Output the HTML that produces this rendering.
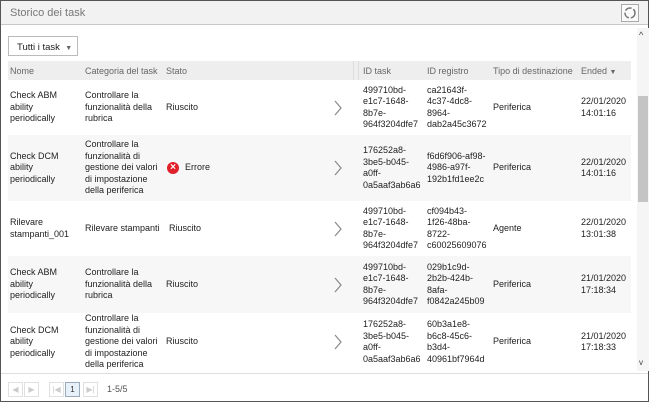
<!DOCTYPE html>
<html><head><style>
*{margin:0;padding:0;box-sizing:border-box}
body{width:649px;height:402px;overflow:hidden;background:#fff;font-family:"Liberation Sans","DejaVu Sans",sans-serif;font-size:9px;color:#222}
#w{position:absolute;left:0;top:0;width:649px;height:402px;border:1px solid #555}
.hd{position:absolute;left:0;top:0;width:647px;height:24px;background:#f2f2f2;border-bottom:1px solid #c8c8c8}
.hd span{position:absolute;left:9px;top:6px;font-size:11px;color:#777}
.rf{position:absolute;left:620px;top:3px;width:18px;height:18px;border:1px solid #aaa;background:#fafafa}
.dd{position:absolute;left:7px;top:35px;width:70px;height:20px;border:1px solid #bbb;font-size:9.5px;padding:5px 0 0 8px}
.th{position:absolute;left:7px;top:60px;width:623px;height:19px;background:#eee;color:#666}
.th div{position:absolute;top:5px}
.r{position:absolute;left:7px;width:623px}
.c{position:absolute;top:0;height:100%;display:flex;align-items:center;line-height:11.5px}
.sb{position:absolute;left:636px;top:27px;width:12px;height:343px;background:#f5f5f5}
.sb i{position:absolute;left:1px;top:68px;width:10px;height:106px;background:#c4c4c4}
.ft{position:absolute;left:0;top:372px;width:647px;height:29px;border-top:1px solid #ddd}
.pb{position:absolute;top:8px;width:15px;height:15px;border:1px solid #e0e0e0;color:#ccc;font-size:8px;text-align:center;line-height:13px}
</style></head><body><div id="w">
<div class="hd"><span>Storico dei task</span><div class="rf"><svg width="16" height="16"><circle cx="8" cy="8" r="5" fill="none" stroke="#777" stroke-width="1.5" stroke-dasharray="7 2"/></svg></div></div>
<div class="dd">Tutti i task &nbsp;<span style="font-size:7px;color:#666">▼</span></div>
<div class="th"><div style="left:2px">Nome</div><div style="left:77px">Categoria del task</div><div style="left:158px">Stato</div>
<div style="left:345px;top:0;width:6px;height:19px;border-left:1px solid #ddd;border-right:1px solid #ddd"></div>
<div style="left:355px">ID task</div><div style="left:419px">ID registro</div><div style="left:485px">Tipo di destinazione</div><div style="left:573px">Ended <span style="font-size:7px">▼</span></div></div>

<div class="r" style="top:79px;height:55px;background:#fff">
<div class="c" style="left:2px">Check ABM<br>ability<br>periodically</div><div class="c" style="left:77px">Controllare la<br>funzionalità della<br>rubrica</div><div class="c" style="left:158px">Riuscito</div><div class="c" style="left:326px"><svg width="8" height="16"><path d="M1 1 L7 8 L1 15" fill="none" stroke="#888" stroke-width="1.2"/></svg></div><div class="c" style="left:355px">499710bd-<br>e1c7-1648-<br>8b7e-<br>964f3204dfe7</div><div class="c" style="left:419px">ca21643f-<br>4c37-4dc8-<br>8964-<br>dab2a45c3672</div><div class="c" style="left:485px">Periferica</div><div class="c" style="left:573px">22/01/2020<br>14:01:16</div></div>

<div class="r" style="top:134px;height:66px;background:#f7f7f7">
<div class="c" style="left:2px">Check DCM<br>ability<br>periodically</div><div class="c" style="left:77px">Controllare la<br>funzionalità di<br>gestione dei valori<br>di impostazione<br>della periferica</div><div class="c" style="left:159px"><span style="display:inline-block;width:12px;height:12px;border-radius:6px;background:#e0202a;color:#fff;text-align:center;font-size:10px;line-height:12px;font-weight:bold;margin-right:6px">×</span>Errore</div><div class="c" style="left:326px"><svg width="8" height="16"><path d="M1 1 L7 8 L1 15" fill="none" stroke="#888" stroke-width="1.2"/></svg></div><div class="c" style="left:355px">176252a8-<br>3be5-b045-<br>a0ff-<br>0a5aaf3ab6a6</div><div class="c" style="left:419px">f6d6f906-af98-<br>4986-a97f-<br>192b1fd1ee2c</div><div class="c" style="left:485px">Periferica</div><div class="c" style="left:573px">22/01/2020<br>14:01:16</div></div>

<div class="r" style="top:200px;height:55px;background:#fff">
<div class="c" style="left:2px">Rilevare<br>stampanti_001</div><div class="c" style="left:77px">Rilevare stampanti</div><div class="c" style="left:161px">Riuscito</div><div class="c" style="left:326px"><svg width="8" height="16"><path d="M1 1 L7 8 L1 15" fill="none" stroke="#888" stroke-width="1.2"/></svg></div><div class="c" style="left:355px">499710bd-<br>e1c7-1648-<br>8b7e-<br>964f3204dfe7</div><div class="c" style="left:419px">cf094b43-<br>1f26-48ba-<br>8722-<br>c60025609076</div><div class="c" style="left:485px">Agente</div><div class="c" style="left:573px">22/01/2020<br>13:01:38</div></div>

<div class="r" style="top:255px;height:57px;background:#f7f7f7">
<div class="c" style="left:2px">Check ABM<br>ability<br>periodically</div><div class="c" style="left:77px">Controllare la<br>funzionalità della<br>rubrica</div><div class="c" style="left:158px">Riuscito</div><div class="c" style="left:326px"><svg width="8" height="16"><path d="M1 1 L7 8 L1 15" fill="none" stroke="#888" stroke-width="1.2"/></svg></div><div class="c" style="left:355px">499710bd-<br>e1c7-1648-<br>8b7e-<br>964f3204dfe7</div><div class="c" style="left:419px">029b1c9d-<br>2b2b-424b-<br>8afa-<br>f0842a245b09</div><div class="c" style="left:485px">Periferica</div><div class="c" style="left:573px">21/01/2020<br>17:18:34</div></div>

<div class="r" style="top:312px;height:58px;background:#fff">
<div class="c" style="left:2px">Check DCM<br>ability<br>periodically</div><div class="c" style="left:77px">Controllare la<br>funzionalità di<br>gestione dei valori<br>di impostazione<br>della periferica</div><div class="c" style="left:158px">Riuscito</div><div class="c" style="left:326px"><svg width="8" height="16"><path d="M1 1 L7 8 L1 15" fill="none" stroke="#888" stroke-width="1.2"/></svg></div><div class="c" style="left:355px">176252a8-<br>3be5-b045-<br>a0ff-<br>0a5aaf3ab6a6</div><div class="c" style="left:419px">60b3a1e8-<br>b6c8-45c6-<br>b3d4-<br>40961bf7964d</div><div class="c" style="left:485px">Periferica</div><div class="c" style="left:573px">21/01/2020<br>17:18:33</div></div>

<div class="sb"><div style="position:absolute;left:2px;top:2px;font-size:9px;color:#444">^</div><i></i><div style="position:absolute;left:2px;top:330px;font-size:8px;color:#444">v</div></div>
<div class="ft">
<div class="pb" style="left:7px">◀</div><div class="pb" style="left:23px">▶</div>
<div class="pb" style="left:48px">|◀</div><div class="pb" style="left:64px;color:#333;background:#e8f0fa;border-color:#9ab">1</div><div class="pb" style="left:82px">▶|</div>
<div style="position:absolute;left:106px;top:10px;color:#555">1-5/5</div></div>
</div></body></html>
